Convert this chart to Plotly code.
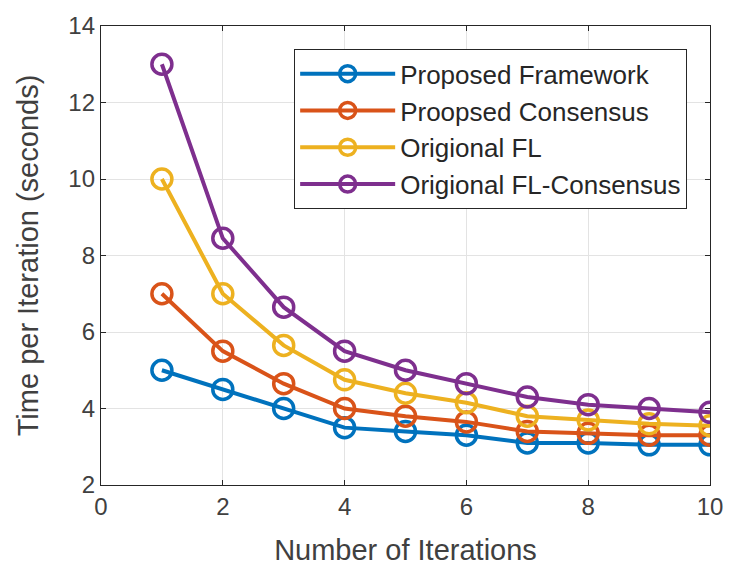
import plotly.graph_objects as go

iterations = [1, 2, 3, 4, 5, 6, 7, 8, 9, 10]
proposed_framework = [5.0, 4.5, 4.0, 3.5, 3.4, 3.3, 3.1, 3.1, 3.05, 3.05]
proposed_consensus = [7.0, 5.5, 4.65, 4.0, 3.8, 3.65, 3.4, 3.35, 3.3, 3.3]
original_fl = [10.0, 7.0, 5.65, 4.75, 4.4, 4.15, 3.8, 3.7, 3.6, 3.55]
original_fl_consensus = [13.0, 8.45, 6.65, 5.5, 5.0, 4.65, 4.3, 4.1, 4.0, 3.9]

series_names = ["Proposed Framework", "Proopsed Consensus", "Origional FL", "Origional FL-Consensus"]
series_values = [proposed_framework, proposed_consensus, original_fl, original_fl_consensus]
colors = ["#0072BD", "#D95319", "#EDB120", "#7E2F8E"]

x_ticks = [0, 2, 4, 6, 8, 10]
y_ticks = [2, 4, 6, 8, 10, 12, 14]

fig = go.Figure()
for name, vals, col in zip(series_names, series_values, colors):
    fig.add_trace(go.Scatter(
        x=iterations, y=vals, name=name, mode="lines+markers",
        line=dict(color=col, width=4),
        marker=dict(symbol="circle-open", size=20, color=col, line=dict(width=3.5, color=col)),
    ))

axis_common = dict(
    showline=True, linecolor="#262626", linewidth=1.3, mirror="ticks",
    ticks="inside", ticklen=5, tickcolor="#262626",
    showgrid=True, gridcolor="#e3e3e3", gridwidth=1,
    zeroline=False,
    tickfont=dict(family="Liberation Sans, Arial, sans-serif", size=24, color="#404040"),
)

fig.update_layout(
    width=735, height=572,
    margin=dict(l=101, r=20, t=25, b=87),
    paper_bgcolor="white", plot_bgcolor="white",
    font=dict(family="Liberation Sans, Arial, sans-serif", color="#262626"),
    xaxis=dict(range=[0, 10], tickvals=x_ticks,
               title=dict(text="Number of Iterations", font=dict(size=29, color="#404040"), standoff=20),
               **axis_common),
    yaxis=dict(range=[2, 14], tickvals=y_ticks,
               title=dict(text="Time per Iteration (seconds)", font=dict(size=29, color="#404040"), standoff=21),
               **axis_common),
    legend=dict(
        x=0.962, y=0.95, xanchor="right", yanchor="top",
        bgcolor="white", bordercolor="#262626", borderwidth=1.3,
        font=dict(size=26, color="#262626"),
        itemwidth=95, tracegroupgap=0,
    ),
    showlegend=True,
)

fig.write_html("out.html")
